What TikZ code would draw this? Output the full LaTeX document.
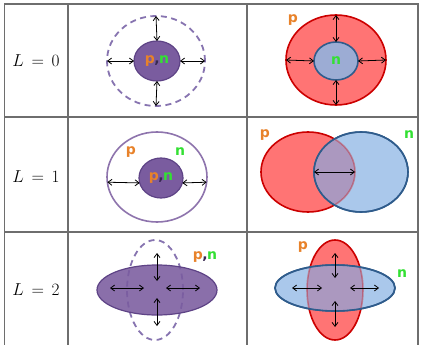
\documentclass[tikz,border=0pt]{standalone}
\usepackage{fontspec}
\newfontfamily\lblfont{DejaVu Sans}[BoldFont={DejaVu Sans Bold}]
\usetikzlibrary{shapes.geometric,arrows.meta}
\definecolor{gridgray}{HTML}{6E6E6E}
\definecolor{pfillc}{HTML}{7A5C9F}
\definecolor{pdrawc}{HTML}{5E4386}
\definecolor{pdashc}{HTML}{8774B0}
\definecolor{redfillc}{HTML}{FF7474}
\definecolor{reddrawc}{HTML}{CC0000}
\definecolor{bluefillc}{HTML}{AAC8EB}
\definecolor{blueinnerc}{HTML}{9CACD4}
\definecolor{bluedrawc}{HTML}{2F5C8C}
\definecolor{overlapc}{HTML}{AB98BF}
\definecolor{orangec}{HTML}{E8822A}
\definecolor{greenc}{HTML}{33E033}
\newcommand{\pc}{\textcolor{orangec}{p}}
\newcommand{\nc}{\textcolor{greenc}{n}}
\newcommand{\pnlab}{\pc\kern-0.5pt\textcolor{pdrawc!60!black}{,}\kern-0.5pt\nc}
\tikzset{
  grid/.style={draw=gridgray, line width=1.1pt},
  ell/.style={ellipse, inner sep=0pt, outer sep=0pt},
  pfill/.style={ell, fill=pfillc, draw=pdrawc, line width=1.2pt},
  pring/.style={ell, draw=pfillc!85!white, line width=1.6pt},
  pdash/.style={ell, draw=pdashc, line width=1.8pt, dash pattern=on 6pt off 4.5pt},
  redell/.style={ell, fill=redfillc, draw=reddrawc, line width=1.6pt},
  blueell/.style={ell, fill=bluefillc, draw=bluedrawc, line width=1.6pt},
  lab/.style={font=\lblfont\bfseries\fontsize{14}{15}\selectfont, inner sep=0pt},
  rowlab/.style={font=\fontsize{16}{18}\selectfont, inner sep=0pt},
  dbl/.style={{Straight Barb[length=4pt,width=6pt]}-{Straight Barb[length=4pt,width=6pt]}, line width=0.8pt, black},
}
\begin{document}
\begin{tikzpicture}[x=1pt,y=-1pt]
\useasboundingbox (0,0) rectangle (423,345);
\fill[white] (0,0) rectangle (423,345);
% grid
\draw[grid] (4.5,350) -- (4.5,4) -- (418,4) -- (418,350);
\draw[grid] (68,4) -- (68,350);
\draw[grid] (247,4) -- (247,350);
\draw[grid] (4.5,117) -- (418,117);
\draw[grid] (4.5,232) -- (418,232);
% row labels
\node[rowlab] (l0) at (36,61) {$L\,=\,0$};
\node[rowlab] (l1) at (36,177) {$L\,=\,1$};
\node[rowlab] (l2) at (36,290) {$L\,=\,2$};

% ---------- Row 1 left ----------
\node[pdash, minimum width=98pt, minimum height=90pt] (o1) at (156,61) {};
\node[pfill, minimum width=46pt, minimum height=40pt, lab] (i1) at (157,61) {\pnlab};
\draw[dbl] (i1.north) -- (o1.north);
\draw[dbl] (i1.south) -- (o1.south);
\draw[dbl] (i1.west) -- (o1.west);
\draw[dbl] (i1.east) -- (o1.east);

% ---------- Row 1 right ----------
\node[redell, minimum width=100pt, minimum height=90pt] (ro1) at (336,60) {};
\node[ell, fill=blueinnerc, draw=bluedrawc, line width=1.6pt, minimum width=44pt, minimum height=38pt, lab] (bi1) at (336,61) {\nc};
\node[lab] (p1) at (293,20) {\pc};
\draw[dbl] (bi1.north) -- (ro1.north);
\draw[dbl] (bi1.south) -- (ro1.south);
\draw[dbl] (bi1.west) -- (ro1.west);
\draw[dbl] (bi1.east) -- (ro1.east);

% ---------- Row 2 left ----------
\node[pring, minimum width=100pt, minimum height=90pt] (o2) at (157,177) {};
\node[pfill, minimum width=44pt, minimum height=40pt, lab] (i2) at (161,178) {\pnlab};
\node[lab] (p2) at (131,152) {\pc};
\node[lab] (n2) at (180,152) {\nc};
\draw[dbl] (o2.186) -- (i2.193);
\draw[dbl] (i2.347) -- (o2.354);

% ---------- Row 2 right ----------
\node[redell, minimum width=94pt, minimum height=80pt] (r2) at (308,172) {};
\node[blueell, minimum width=94pt, minimum height=80pt] (b2) at (361,172) {};
\begin{scope}
  \clip (361,172) ellipse [x radius=46.2pt, y radius=39.2pt];
  \fill[overlapc] (308,172) ellipse [x radius=47pt, y radius=40pt];
  \draw[reddrawc, line width=1.6pt, opacity=0.35] (308,172) ellipse [x radius=47pt, y radius=40pt];
\end{scope}
\draw[bluedrawc, line width=1.6pt] (361,172) ellipse [x radius=47pt, y radius=40pt];
\node[lab] (p3) at (265,135) {\pc};
\node[lab] (n3) at (409,135) {\nc};
\draw[dbl] (b2.west) -- (r2.east);

% ---------- Row 3 left ----------
\node[pdash, minimum width=56pt, minimum height=100pt] (dv) at (155,290) {};
\node[pfill, fill opacity=0.88, minimum width=120pt, minimum height=50pt] (fh) at (157,290) {};
\node[lab] (pn3) at (205,257) {\pnlab};
\coordinate (c3u1) at (157,281); \coordinate (c3u2) at (157,253);
\coordinate (c3d1) at (157,298); \coordinate (c3d2) at (157,326);
\coordinate (c3l1) at (110,288); \coordinate (c3l2) at (144,288);
\coordinate (c3r1) at (166,288); \coordinate (c3r2) at (200,288);
\draw[dbl] (c3u1) -- (c3u2);
\draw[dbl] (c3d1) -- (c3d2);
\draw[dbl] (c3l1) -- (c3l2);
\draw[dbl] (c3r1) -- (c3r2);

% ---------- Row 3 right ----------
\node[redell, minimum width=56pt, minimum height=100pt] (rv) at (335,290) {};
\node[blueell, minimum width=120pt, minimum height=46pt] (bh) at (335,288) {};
\begin{scope}
  \clip (335,288) ellipse [x radius=59.2pt, y radius=22.2pt];
  \fill[overlapc] (335,290) ellipse [x radius=28pt, y radius=50pt];
  \draw[reddrawc, line width=1.6pt, opacity=0.35] (335,290) ellipse [x radius=28pt, y radius=50pt];
\end{scope}
\draw[bluedrawc, line width=1.6pt] (335,288) ellipse [x radius=60pt, y radius=23pt];
\node[lab] (p4) at (303,247) {\pc};
\node[lab] (n4) at (402,274) {\nc};
\coordinate (d3u1) at (335,278); \coordinate (d3u2) at (335,253);
\coordinate (d3d1) at (335,301); \coordinate (d3d2) at (335,327);
\coordinate (d3l1) at (292,288); \coordinate (d3l2) at (322,288);
\coordinate (d3r1) at (350,288); \coordinate (d3r2) at (379,288);
\draw[dbl] (d3u1) -- (d3u2);
\draw[dbl] (d3d1) -- (d3d2);
\draw[dbl] (d3l1) -- (d3l2);
\draw[dbl] (d3r1) -- (d3r2);
\end{tikzpicture}
\end{document}
